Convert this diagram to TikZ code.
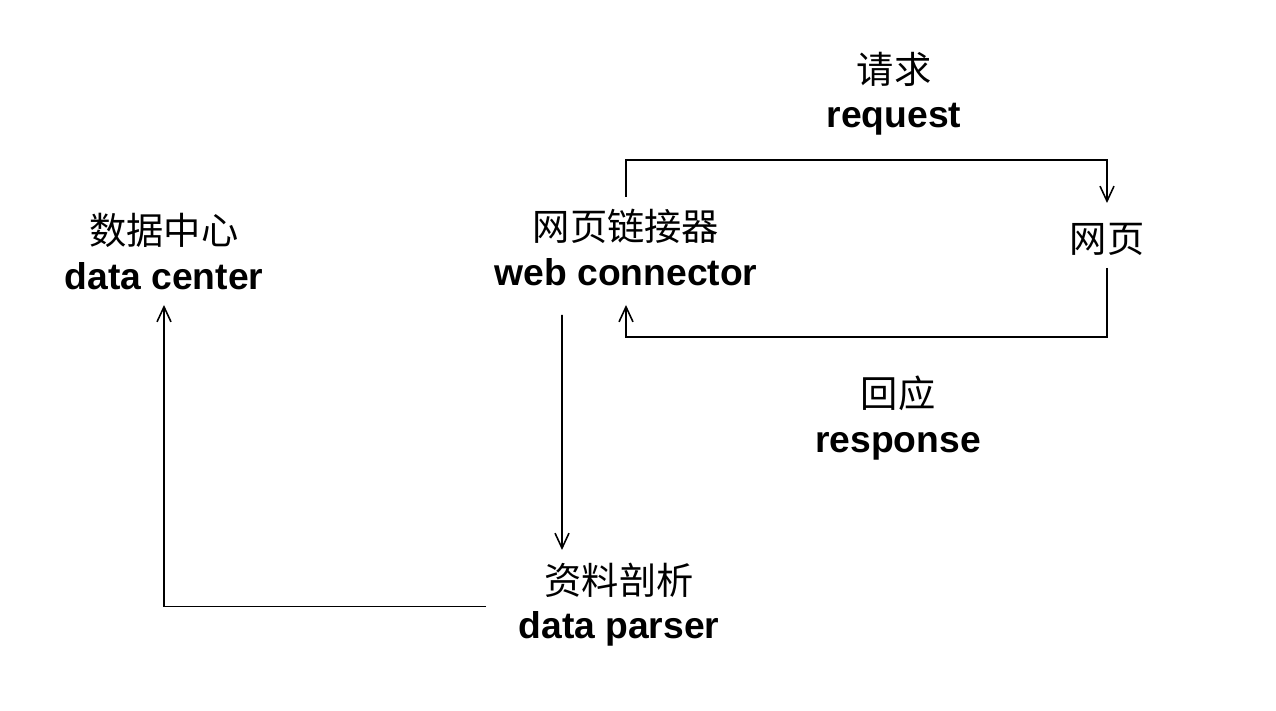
\documentclass[tikz,border=0pt]{standalone}
\usepackage{fontspec}
\usepackage{tikz}
\usetikzlibrary{arrows.meta}
\newfontfamily\cjk{Noto Sans CJK SC}
\newfontfamily\latin{Liberation Sans}

\begin{document}
\begin{tikzpicture}[%
        line width = 0.45pt,
        arr/.style = {-{Straight Barb[length=1.5mm,width=1.4mm]}},
        lbl/.style = {align=center, inner sep=0pt, font=\fontsize{10.6}{12.6}\selectfont}
    ]
      \useasboundingbox (0,0) rectangle (12.76,7.10);
      \node[lbl] (center) at (1.64,4.585) {{\cjk 数据中心}\\{\latin\bfseries data center}};
      \node[lbl] (connector) at (6.26,4.625) {{\cjk 网页链接器}\\{\latin\bfseries web connector}};
      \node[lbl] (page) at (11.07,4.71) {\cjk 网页};
      \node[lbl] (parser) at (6.19,1.05) {{\cjk 资料剖析}\\{\latin\bfseries data parser}};
      \node[lbl] (req) at (8.94,6.165) {{\cjk 请求}\\{\latin\bfseries request}};
      \node[lbl] (resp) at (8.98,2.92) {{\cjk 回应}\\{\latin\bfseries response}};
      \draw[arr] ([yshift=5.05mm]connector.center) |- (6.26,5.50) -| ([yshift=3.6mm]page.center);
      \draw[arr] ([yshift=-2.9mm]page.center) |- (6.26,3.73) -- ([yshift=-5.75mm]connector.center);
      \draw[arr] ([xshift=-6.4mm,yshift=-6.75mm]connector.center) -- ([xshift=-5.7mm,yshift=5.5mm]parser.center);
      \draw[arr] ([xshift=-13.3mm,yshift=-0.15mm]parser.center) -| ([yshift=-5.35mm]center.center);
    \end{tikzpicture}
\end{document}
